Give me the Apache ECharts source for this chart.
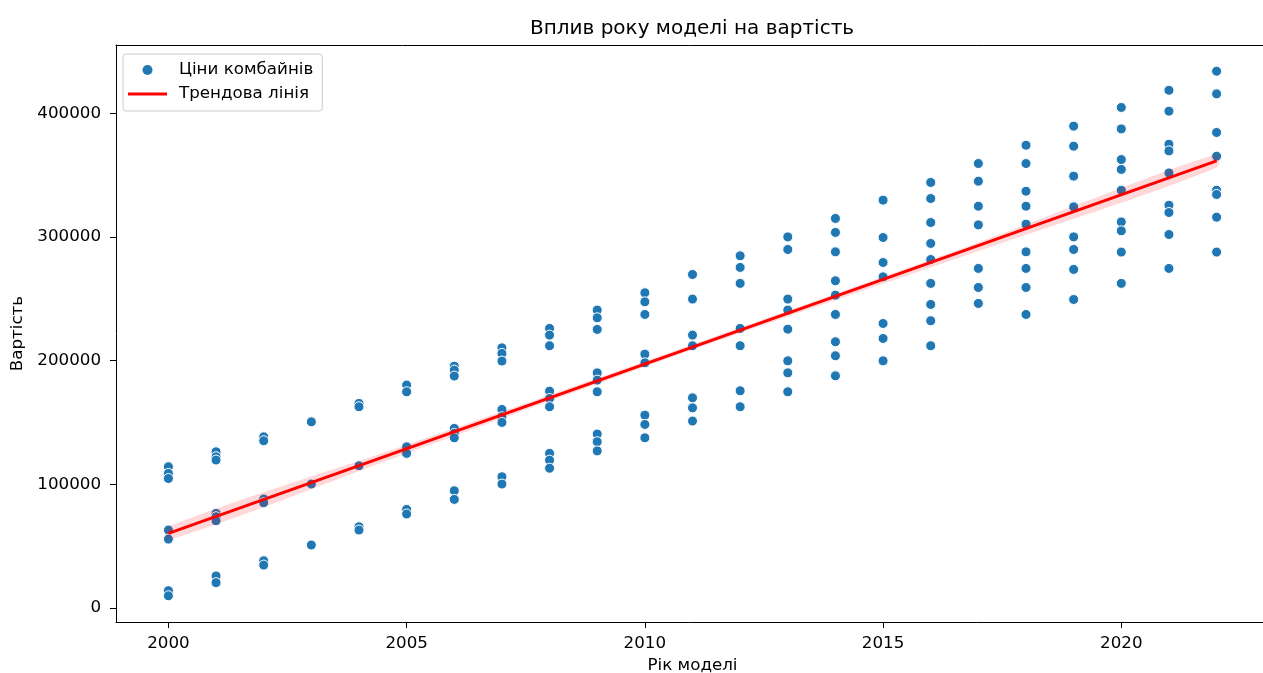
<!DOCTYPE html>
<html>
<head>
<meta charset="utf-8">
<script src="https://cdn.jsdelivr.net/npm/echarts@6/dist/echarts.min.js"></script>
<style>
  html, body { margin: 0; padding: 0; background: #fff; }
  #chart { width: 1263px; height: 673px; }
</style>
</head>
<body>
<div id="chart"></div>
<script>
// Model years on the x axis
const years = [2000, 2001, 2002, 2003, 2004, 2005, 2006, 2007, 2008, 2009, 2010,
               2011, 2012, 2013, 2014, 2015, 2016, 2017, 2018, 2019, 2020, 2021, 2022];

// Combine prices observed for each model year (same order as `years`)
const pricesByYear = [
  [114200, 108800, 104700, 63000, 55700, 14000, 9900],
  [126300, 122300, 119600, 76500, 73800, 70500, 25900, 20500],
  [138400, 135200, 88100, 85100, 38200, 34700],
  [150500, 100200, 50900],
  [165400, 162700, 115000, 65700, 63000],
  [180200, 174800, 130300, 125000, 79700, 76000],
  [195500, 192300, 187500, 145200, 141200, 137600, 94800, 87800],
  [210300, 205800, 199600, 160500, 154600, 150000, 106100, 100200],
  [226000, 220600, 212000, 175300, 169400, 162700, 125000, 119500, 113000],
  [240800, 234600, 225200, 190100, 184200, 174800, 140600, 134400, 127000],
  [254800, 247500, 237300, 205200, 198200, 155900, 148400, 137600],
  [269600, 249700, 220600, 212000, 169900, 161800, 151100],
  [284700, 275300, 262400, 226000, 212000, 175600, 162700],
  [300000, 289800, 249700, 240800, 225400, 199800, 190100, 174800],
  [314900, 303600, 287900, 264500, 252900, 237300, 215200, 203900, 187700],
  [329700, 299500, 279300, 267700, 230000, 217900, 199800],
  [344000, 331000, 311600, 294700, 281700, 262400, 245400, 232200, 212000],
  [359300, 345000, 324800, 309700, 274500, 259100, 246200],
  [374100, 359300, 336900, 324800, 310300, 287900, 274500, 259100, 237300],
  [389500, 373300, 349100, 324300, 300000, 289800, 273700, 249400],
  [404600, 387300, 362500, 354500, 337700, 312100, 304900, 287700, 262400],
  [418500, 401600, 374900, 369500, 351700, 325600, 319700, 301900, 274500],
  [433900, 415600, 384400, 365200, 337700, 334300, 315900, 287700]
];

// Fitted trend line end points
const trendYears = [2000, 2022];
const trendValues = [60400, 361400];

// Confidence band of the trend (lower / upper bound)
const bandYears = [2000, 2005, 2011, 2017, 2022];
const bandLow   = [54900, 125000, 208700, 288500, 355900];
const bandHigh  = [65900, 132000, 213100, 295500, 366900];

// Axis ticks
const xTicks = [2000, 2005, 2010, 2015, 2020];
const yTicks = [0, 100000, 200000, 300000, 400000];

const FONT = 'DejaVu Sans';
const X_MIN = 1998.9, X_MAX = 2023.1;

const scatterData = [];
years.forEach((yr, i) => {
  pricesByYear[i].forEach(p => scatterData.push([yr, p]));
});

const plainNumber = v => String(Math.round(v));
const spine = { show: true, onZero: false, lineStyle: { color: '#000', width: 1 } };

const chart = echarts.init(document.getElementById('chart'), null, { renderer: 'canvas' });

chart.setOption({
  animation: false,
  backgroundColor: '#ffffff',
  textStyle: { fontFamily: FONT, color: '#000' },
  title: {
    text: 'Вплив року моделі на вартість',
    left: 692,
    top: 19,
    textAlign: 'center',
    padding: 0,
    textStyle: { fontFamily: FONT, fontSize: 20, fontWeight: 'normal', color: '#000' }
  },
  grid: {
    left: 116,
    top: 45,
    width: 1153,
    height: 577,
    outerBoundsMode: 'none',
    containLabel: false,
    show: false
  },
  legend: {
    orient: 'vertical',
    left: 123,
    top: 54,
    padding: [6, 9, 7, 5],
    itemWidth: 39,
    itemHeight: 10,
    itemGap: 4,
    backgroundColor: 'rgba(255,255,255,0.8)',
    borderColor: '#cccccc',
    borderWidth: 1,
    borderRadius: 3,
    textStyle: { fontFamily: FONT, fontSize: 16.7, color: '#000', lineHeight: 20, padding: [0, 0, 0, 7] },
    data: [
      { name: 'Ціни комбайнів', icon: 'circle', itemStyle: { opacity: 1, borderWidth: 0 } },
      { name: 'Трендова лінія', icon: 'path://M0,0 L39,0 L39,3 L0,3 Z', itemStyle: { color: '#ff0000', opacity: 1 } }
    ]
  },
  xAxis: [
    {
      type: 'value',
      position: 'bottom',
      min: X_MIN,
      max: X_MAX,
      name: 'Рік моделі',
      nameLocation: 'middle',
      nameGap: 35,
      nameTextStyle: { fontFamily: FONT, fontSize: 16.7, color: '#000' },
      splitLine: { show: false },
      axisLine: spine,
      axisTick: { show: true, customValues: xTicks, length: 6, lineStyle: { color: '#000', width: 1 } },
      axisLabel: { customValues: xTicks, formatter: plainNumber, margin: 13, fontFamily: FONT, fontSize: 16.7, color: '#000' }
    },
    {
      // top frame line only
      type: 'value',
      position: 'top',
      min: X_MIN,
      max: X_MAX,
      splitLine: { show: false },
      axisLine: spine,
      axisTick: { show: false },
      axisLabel: { show: false }
    }
  ],
  yAxis: {
    type: 'value',
    position: 'left',
    min: -11300,
    max: 455100,
    name: 'Вартість',
    nameLocation: 'middle',
    nameGap: 85,
    nameTextStyle: { fontFamily: FONT, fontSize: 16.7, color: '#000' },
    splitLine: { show: false },
    axisLine: spine,
    axisTick: { show: true, customValues: yTicks, length: 6, lineStyle: { color: '#000', width: 1 } },
    axisLabel: { customValues: yTicks, formatter: plainNumber, margin: 15, fontFamily: FONT, fontSize: 16.7, color: '#000' }
  },
  series: [
    {
      name: 'Ціни комбайнів',
      type: 'scatter',
      data: scatterData,
      symbol: 'circle',
      symbolSize: 10,
      itemStyle: { color: '#1f77b4', borderColor: '#ffffff', borderWidth: 1, opacity: 1 },
      z: 2
    },
    {
      name: 'band',
      type: 'custom',
      data: bandYears.map((y, i) => [y, bandLow[i], bandHigh[i]]),
      encode: { x: 0, y: [1, 2] },
      renderItem: function (params, api) {
        if (params.dataIndex !== 0) return null;
        const pts = [];
        for (let i = 0; i < bandYears.length; i++) pts.push(api.coord([bandYears[i], bandHigh[i]]));
        for (let i = bandYears.length - 1; i >= 0; i--) pts.push(api.coord([bandYears[i], bandLow[i]]));
        return {
          type: 'polygon',
          shape: { points: pts, smooth: 0.3 },
          style: { fill: 'rgba(255,0,0,0.15)', stroke: null }
        };
      },
      silent: true,
      z: 3
    },
    {
      name: 'Трендова лінія',
      type: 'line',
      data: trendYears.map((y, i) => [y, trendValues[i]]),
      symbol: 'none',
      lineStyle: { color: '#ff0000', width: 3 },
      itemStyle: { color: '#ff0000' },
      z: 4
    }
  ]
});
</script>
</body>
</html>
